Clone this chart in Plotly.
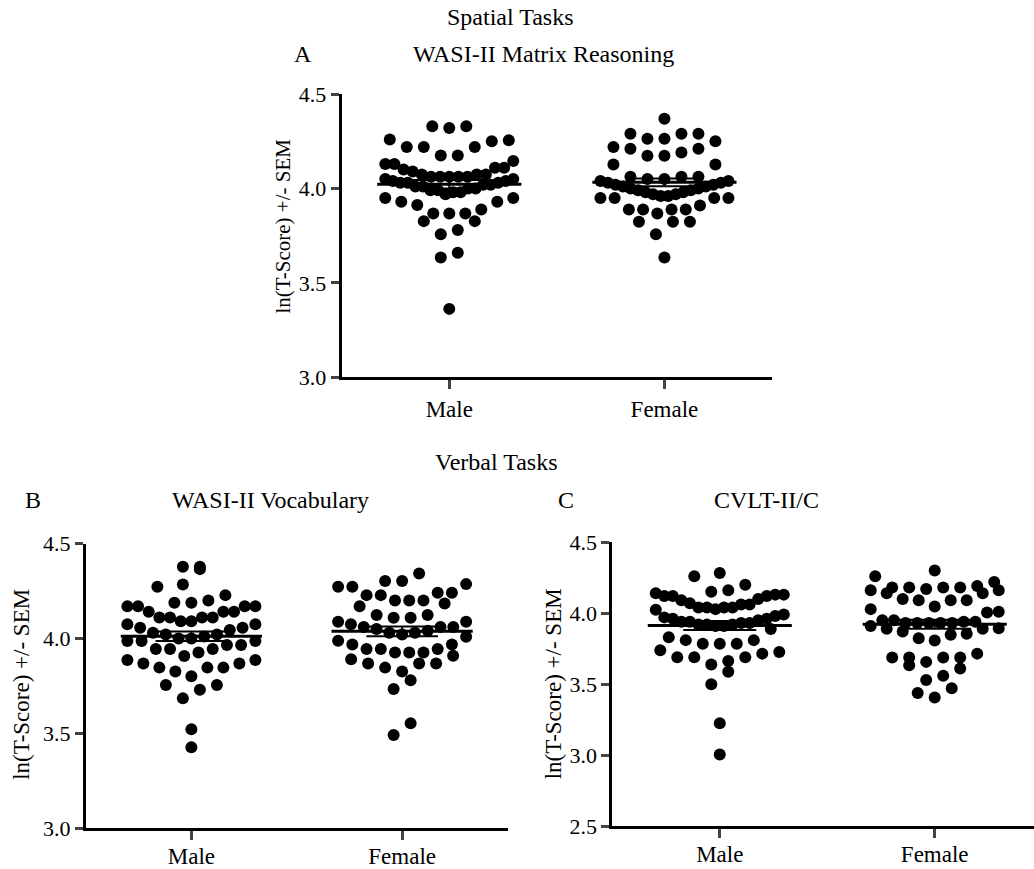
import math
import plotly.graph_objects as go

# ---------------- data ----------------
groups = ["Male", "Female"]
tick_a = [3.0, 3.5, 4.0, 4.5]
tick_c = [2.5, 3.0, 3.5, 4.0, 4.5]

matrix_male = [4.33, 4.32, 4.33, 4.26, 4.255, 4.25, 4.22, 4.22, 4.22, 4.175, 4.175,
               4.145, 4.13, 4.13, 4.11, 4.11, 4.10, 4.09, 4.074, 4.074, 4.074,
               4.062, 4.062, 4.062, 4.062, 4.062,
               4.05, 4.05, 4.04, 4.04, 4.03, 4.03, 4.03, 4.02, 4.02, 4.01, 4.01,
               4.00, 4.00, 3.99, 3.99, 3.98, 3.98, 3.97,
               3.95, 3.95, 3.93, 3.93, 3.912, 3.889, 3.868, 3.868, 3.868, 3.827,
               3.827, 3.78, 3.757, 3.66, 3.634, 3.362]
matrix_female = [4.37, 4.29, 4.29, 4.29, 4.264, 4.264, 4.25, 4.22, 4.21, 4.21, 4.19,
                 4.173, 4.173, 4.127, 4.127, 4.062, 4.062, 4.062,
                 4.05, 4.05, 4.04, 4.04, 4.03, 4.03, 4.02, 4.02, 4.01, 4.01, 4.00,
                 4.00, 3.99, 3.99, 3.98, 3.98, 3.97, 3.97, 3.96, 3.96,
                 3.95, 3.95, 3.95, 3.95, 3.91, 3.889, 3.889, 3.889, 3.889, 3.868,
                 3.824, 3.824, 3.824, 3.757, 3.634]

vocab_male = [4.377, 4.377, 4.365, 4.284, 4.272, 4.228, 4.20, 4.188, 4.188, 4.17,
              4.17, 4.17, 4.17, 4.14, 4.14, 4.14, 4.11, 4.11, 4.11, 4.11, 4.09,
              4.09, 4.074, 4.074, 4.056, 4.056, 4.044,
              4.03, 4.02, 4.02, 4.01, 4.00, 4.00,
              3.986, 3.986, 3.986, 3.965, 3.965, 3.944, 3.944, 3.944, 3.926, 3.907,
              3.886, 3.886, 3.868, 3.868, 3.846, 3.846, 3.846, 3.825, 3.80, 3.754,
              3.754, 3.73, 3.684, 3.521, 3.426]
vocab_female = [4.342, 4.302, 4.302, 4.286, 4.272, 4.272, 4.24, 4.24, 4.228, 4.228,
                4.20, 4.20, 4.20, 4.184, 4.17, 4.123, 4.123, 4.109, 4.109, 4.088,
                4.088, 4.074, 4.06, 4.06, 4.06,
                4.05, 4.04, 4.03, 4.03, 4.02,
                4.009, 3.988, 3.968, 3.968, 3.944, 3.944, 3.944, 3.926, 3.926,
                3.926, 3.909, 3.89, 3.868, 3.868, 3.868, 3.846, 3.825, 3.78, 3.733,
                3.553, 3.491]

cvlt_male = [4.282, 4.259, 4.20,
             4.16, 4.15, 4.13, 4.12, 4.10, 4.07, 4.06, 4.04, 4.04, 4.04, 4.04,
             4.06, 4.09, 4.12, 4.12, 4.13, 4.14,
             4.028, 4.023,
             3.97, 3.96, 3.95, 3.94, 3.93, 3.92, 3.92, 3.91, 3.91, 3.92, 3.93,
             3.94, 3.96, 3.98, 3.99,
             3.889, 3.83, 3.81, 3.81, 3.785, 3.785, 3.785, 3.738, 3.727, 3.715,
             3.69, 3.69, 3.69, 3.664, 3.639, 3.588, 3.50, 3.225, 3.005]
cvlt_female = [4.299, 4.259, 4.218,
               4.19, 4.18, 4.18, 4.17, 4.14, 4.10, 4.09, 4.09, 4.09, 4.14, 4.16,
               4.16, 4.18, 4.18,
               4.046, 4.028, 4.009, 4.005,
               3.95, 3.94, 3.93, 3.93, 3.93, 3.93, 3.93, 3.94, 3.95, 3.91, 3.89,
               3.89, 3.894,
               3.87, 3.854, 3.847, 3.824, 3.808,
               3.715, 3.688, 3.688, 3.688, 3.688, 3.657, 3.634, 3.611, 3.56, 3.53,
               3.472, 3.438, 3.407]

# ---------------- layout geometry ----------------
W, H = 1034, 869
FONT = "Liberation Serif"
MARKER = 12
BIN_PX = 16.5      # height of one swarm row (px)
STEP_PX = 17.0     # preferred horizontal spacing inside a row (px)
MAX_SPAN = 128.0   # widest a row may get (px); denser rows overlap


def Y(yt):
    """Target screenshot row -> figure row (compensates observed vertical squeeze)."""
    return (yt - 12.5) / 0.97


panels = [
    dict(key="", male=matrix_male, female=matrix_female, xl=341.7, xr=772.0,
         yt=95.0, yb=379.4, yr=[3.0, 4.5], ticks=tick_a, xrng=[-0.5, 1.5]),
    dict(key="2", male=vocab_male, female=vocab_female, xl=86.0, xr=507.5,
         yt=546.5, yb=832.5, yr=[3.0, 4.5], ticks=tick_a, xrng=[-0.5, 1.5]),
    dict(key="3", male=cvlt_male, female=cvlt_female, xl=612.3, xr=1034.0,
         yt=545.0, yb=830.7, yr=[2.5, 4.5], ticks=tick_c, xrng=[-0.5, 1.462]),
]


def swarm(vals, ppu_y):
    """Prism-like column scatter: bottom-up rows, lowest values in the centre."""
    order = sorted(range(len(vals)), key=lambda i: vals[i])
    bins, cur = [], []
    for i in order:
        if cur and (vals[i] - vals[cur[0]]) * ppu_y > BIN_PX:
            bins.append(cur)
            cur = []
        cur.append(i)
    if cur:
        bins.append(cur)
    offs = [0.0] * len(vals)
    for b in bins:
        n = len(b)
        step = STEP_PX if n < 2 else min(STEP_PX, MAX_SPAN / (n - 1))
        slots = [(k - (n - 1) / 2.0) * step for k in range(n)]
        slots.sort(key=lambda s: (round(abs(s), 6), s))
        ordered, flip = [], False
        j = 0
        while j < len(slots):
            if j + 1 < len(slots) and abs(abs(slots[j]) - abs(slots[j + 1])) < 1e-6:
                pair = [slots[j], slots[j + 1]]
                if flip:
                    pair.reverse()
                ordered.extend(pair)
                flip = not flip
                j += 2
            else:
                ordered.append(slots[j])
                j += 1
        for idx, s in zip(b, ordered):
            offs[idx] = s
    return offs


def mean_sem(vals):
    n = len(vals)
    m = sum(vals) / n
    sd = math.sqrt(sum((v - m) ** 2 for v in vals) / (n - 1))
    return m, sd / math.sqrt(n)


fig = go.Figure()
layout = dict(width=W, height=H, margin=dict(l=0, r=0, t=0, b=0, pad=0),
              paper_bgcolor="white", plot_bgcolor="white", showlegend=False,
              font=dict(family=FONT, color="black"))

for p in panels:
    k = p["key"]
    ppu_y = (p["yb"] - p["yt"]) / (p["yr"][1] - p["yr"][0])
    ppu_x = (p["xr"] - p["xl"]) / (p["xrng"][1] - p["xrng"][0])
    xa = "x" + k
    ya = "y" + k
    for gi, vals in enumerate([p["male"], p["female"]]):
        offs = swarm(vals, ppu_y)
        xs = [gi + o / ppu_x for o in offs]
        fig.add_trace(go.Scatter(x=xs, y=vals, mode="markers", xaxis=xa, yaxis=ya,
                                 marker=dict(size=MARKER, color="black",
                                             line=dict(width=0)),
                                 hoverinfo="skip"))
        m, se = mean_sem(vals)
        fig.add_trace(go.Scatter(x=[gi - 0.335, gi + 0.335], y=[m, m], mode="lines",
                                 xaxis=xa, yaxis=ya,
                                 line=dict(color="black", width=3), hoverinfo="skip"))
        fig.add_trace(go.Scatter(
            x=[gi - 0.17, gi + 0.17, None, gi - 0.17, gi + 0.17, None, gi, gi],
            y=[m + se, m + se, None, m - se, m - se, None, m - se, m + se],
            mode="lines", xaxis=xa, yaxis=ya,
            line=dict(color="black", width=2), hoverinfo="skip"))

    layout["xaxis" + k] = dict(
        domain=[p["xl"] / W, p["xr"] / W], range=p["xrng"], anchor=ya,
        tickvals=[0, 1], ticktext=groups, ticks="outside", ticklen=9, tickwidth=3,
        showline=True, linewidth=3, linecolor="black", showgrid=False,
        zeroline=False, tickfont=dict(family=FONT, size=23, color="black"),
        ticklabelstandoff=-4 if k else 0,
        fixedrange=True)
    layout["yaxis" + k] = dict(
        domain=[1 - Y(p["yb"]) / H, 1 - Y(p["yt"]) / H], range=p["yr"], anchor=xa,
        tickvals=p["ticks"], tickformat=".1f", ticks="outside", ticklen=8,
        tickwidth=3, showline=True, linewidth=3, linecolor="black",
        showgrid=False, zeroline=False,
        tickfont=dict(family=FONT, size=22, color="black"), fixedrange=True)

fig.update_layout(**layout)


def ann(text, x, y, size, angle=0):
    fig.add_annotation(text=text, x=x / W, y=1 - Y(y) / H, xref="paper", yref="paper",
                       showarrow=False, xanchor="center", yanchor="middle",
                       textangle=angle, font=dict(family=FONT, size=size, color="black"))


ann("Spatial Tasks", 510, 18, 24)
ann("A", 303, 55, 24)
ann("WASI-II Matrix Reasoning", 543, 55, 24)
ann("Verbal Tasks", 496, 465, 24)
ann("B", 33, 503, 24)
ann("WASI-II Vocabulary", 270, 503, 24)
ann("C", 566, 503, 24)
ann("CVLT-II/C", 766, 503, 24)
ann("ln(T-Score) +/- SEM", 283, 228, 21, -90)
ann("ln(T-Score) +/- SEM", 21.5, 688, 23, -90)
ann("ln(T-Score) +/- SEM", 553, 688, 23, -90)

fig.write_html(
    "out.html",
    config={"displayModeBar": False},
    post_script=("document.documentElement.style.margin='0';"
                 "document.body.style.margin='0';"
                 "document.body.style.padding='0';"
                 "document.documentElement.style.overflow='hidden';"
                 "document.body.style.overflow='hidden';"),
)
